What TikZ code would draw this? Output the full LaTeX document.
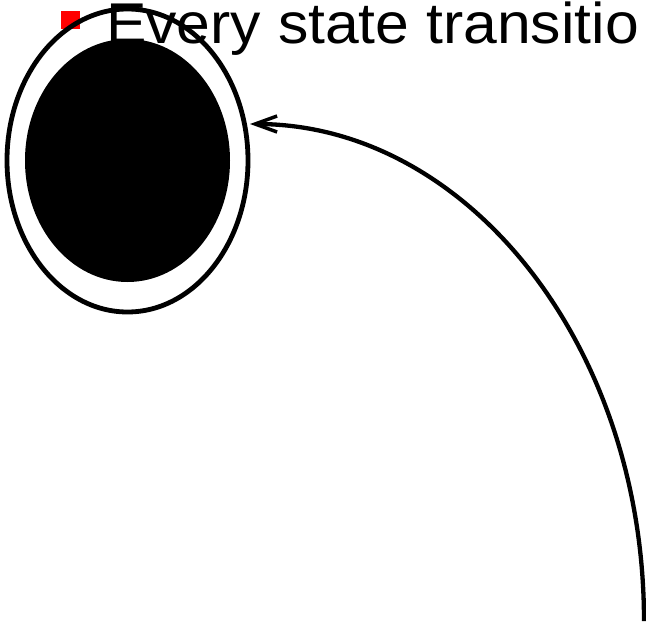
\documentclass[tikz,border=0pt]{standalone}
\usepackage{fontspec}
\newfontfamily\bodyfont[FakeStretch=1.055]{Liberation Sans}
\usetikzlibrary{shapes.geometric,arrows.meta}
\tikzset{
  bullettext/.style={anchor=base west, inner sep=0pt, font=\bodyfont\fontsize{57.5}{60}\selectfont},
  bulletsq/.style={fill=red, draw=none, minimum width=19pt, minimum height=18pt, inner sep=0pt},
  outerring/.style={ellipse, draw=black, line width=4.8pt, minimum width=241pt, minimum height=303pt, inner sep=0pt},
  innerdisc/.style={ellipse, fill=black, draw=none, minimum width=205pt, minimum height=243pt, inner sep=0pt},
  transition/.style={draw=black, line width=4.3pt, -{Straight Barb[length=22pt,width=16pt,line width=3.5pt]}}
}
\begin{document}
\begin{tikzpicture}[x=1pt,y=-1pt]
\useasboundingbox (0,0) rectangle (646,624);
\clip (0,0) rectangle (646,624);
\node[bulletsq] (bullet) at (70.5,20) {};
\node[bullettext] (label) at (106,43) {Every state transitio};
\node[innerdisc] (inner) at (127.5,160.5) {};
\node[outerring] (outer) at (127.5,160.5) {};
\coordinate (start) at (644,621);
\draw[transition] (start) arc[start angle=0, end angle=-90, x radius=394, y radius=497];
\end{tikzpicture}
\end{document}
